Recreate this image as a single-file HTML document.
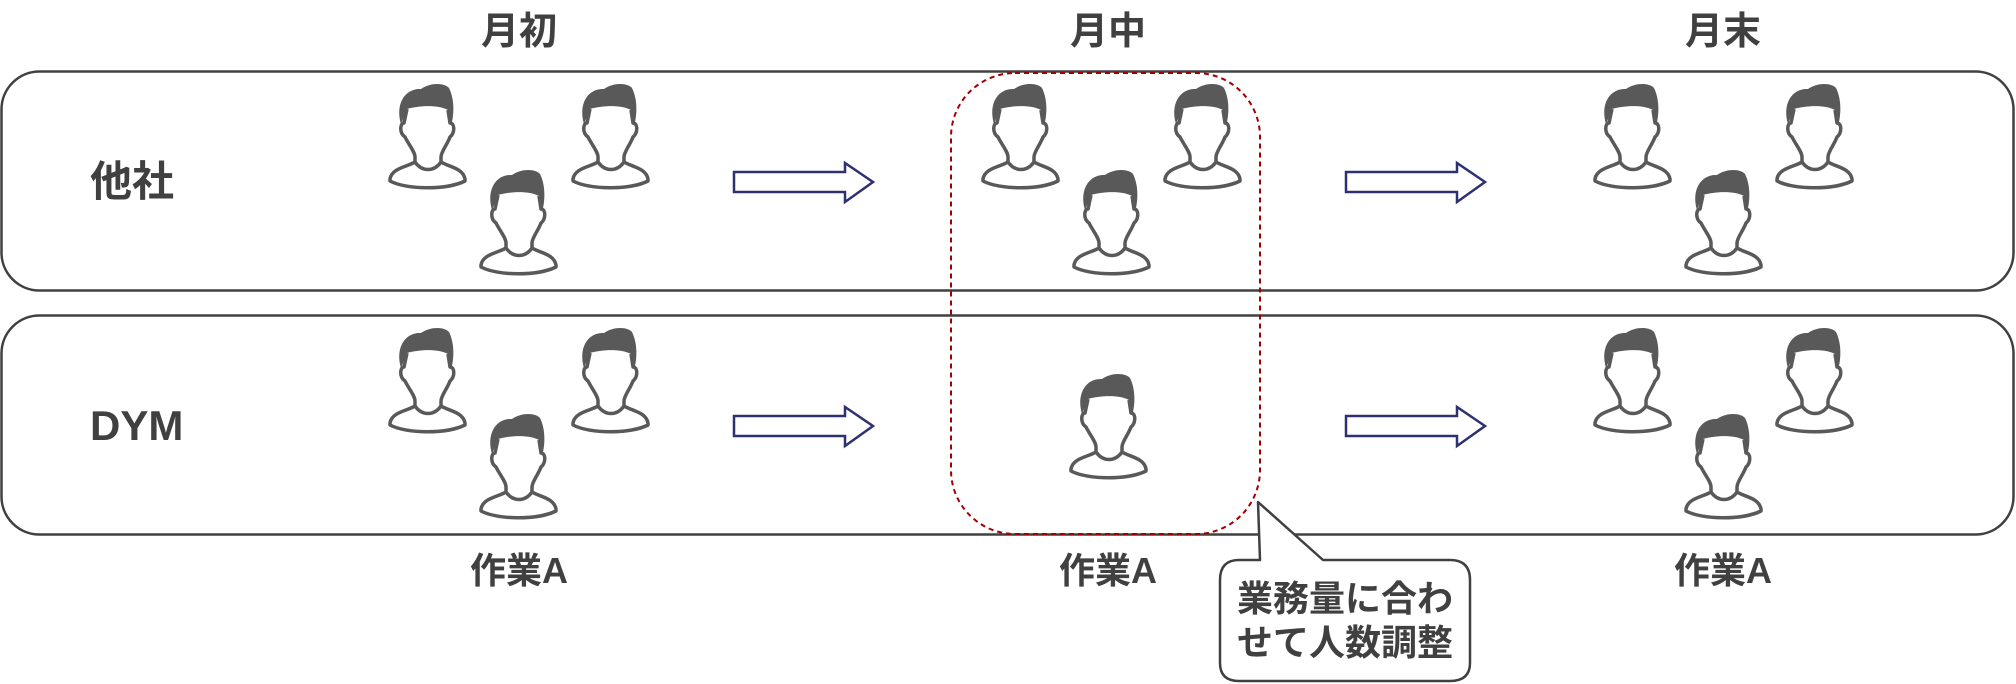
<!DOCTYPE html>
<html><head><meta charset="utf-8"><style>
html,body{margin:0;padding:0;background:#fff}
svg{display:block}
text{font-family:"Liberation Sans","Noto Sans CJK JP",sans-serif;font-weight:bold;fill:#404040}
</style></head><body>
<svg width="2016" height="684" viewBox="0 0 2016 684" xmlns="http://www.w3.org/2000/svg">
<defs>
<g id="p">
<path d="M14,42 C8,22 18,6 34,7 C44,0 58,1 62,6 C68,18 67,34 64,44 L61,28 C50,22 30,24 20,27 Z" fill="#595959"/>
<path d="M20,27 L17,41 C13,41 12,51 18,55 C22,63 28,70 28,75 L28,80 C20,85 5,86 3,97 L3,99 C20,108 60,108 78,99 L78,97 C76,86 62,85 54,80 L54,75 C54,70 60,63 63,55 C68,51 68,41 63,41 L61,28 M28,80 C35,90 47,90 54,80" fill="none" stroke="#595959" stroke-width="3.5" stroke-linejoin="round"/>
</g>
<g id="a">
<path d="M0,9 L111,9 L111,0 L139,19 L111,39 L111,29 L0,29 Z" fill="#fff" stroke="#2e3170" stroke-width="2.5"/>
</g>
</defs>
<rect x="1.5" y="71.5" width="2012" height="219" rx="38" fill="none" stroke="#404040" stroke-width="2.5"/>
<rect x="1.5" y="315.5" width="2012" height="219" rx="38" fill="none" stroke="#404040" stroke-width="2.5"/>
<text x="519" y="44" font-size="38" text-anchor="middle">月初</text>
<text x="1108" y="44" font-size="38" text-anchor="middle">月中</text>
<text x="1723" y="44" font-size="38" text-anchor="middle">月末</text>
<text x="90" y="196" font-size="42">他社</text>
<text x="90" y="440" font-size="42">DYM</text>
<text x="519" y="583" font-size="36" text-anchor="middle">作業A</text>
<text x="1108" y="583" font-size="36" text-anchor="middle">作業A</text>
<text x="1723" y="583" font-size="36" text-anchor="middle">作業A</text>
<use href="#p" x="387" y="82"/><use href="#p" x="570" y="82"/><use href="#p" x="478" y="168"/>
<use href="#p" x="980" y="82"/><use href="#p" x="1162" y="82"/><use href="#p" x="1071" y="168"/>
<use href="#p" x="1592" y="82"/><use href="#p" x="1774" y="82"/><use href="#p" x="1683" y="168"/>
<use href="#p" x="387" y="326"/><use href="#p" x="570" y="326"/><use href="#p" x="478" y="412"/>
<use href="#p" x="1068" y="372"/>
<use href="#p" x="1592" y="326"/><use href="#p" x="1774" y="326"/><use href="#p" x="1683" y="412"/>
<use href="#a" x="734" y="163"/><use href="#a" x="1346" y="163"/>
<use href="#a" x="734" y="407"/><use href="#a" x="1346" y="407"/>
<rect x="951" y="73" width="309" height="461" rx="64" fill="none" stroke="#a00000" stroke-width="2" stroke-dasharray="5,4"/>
<path d="M1260,560 L1258,502 L1323,560 L1450,560 Q1470,560 1470,580 L1470,663 Q1470,681 1450,681 L1239,681 Q1220,681 1220,663 L1220,580 Q1220,560 1239,560 Z" fill="#fff" stroke="#404040" stroke-width="2.5" stroke-linejoin="round"/>
<text x="1345" y="611" font-size="36" text-anchor="middle">業務量に合わ</text>
<text x="1345" y="655" font-size="36" text-anchor="middle">せて人数調整</text>
</svg>
</body></html>
